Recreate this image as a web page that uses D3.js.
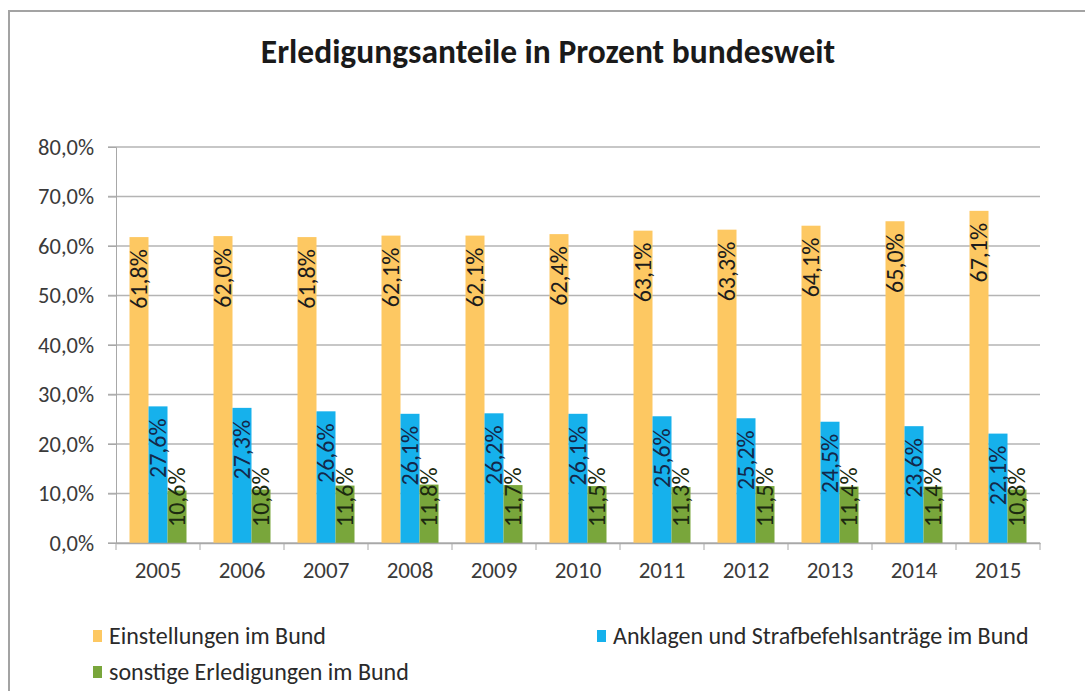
<!DOCTYPE html>
<html lang="de">
<head>
<meta charset="utf-8">
<title>Erledigungsanteile</title>
<script src="https://d3js.org/d3.v7.min.js"></script>
<style>
  body { margin: 0; background: #fff; }
  svg { display: block; font-family: Calibri, Carlito, Lato, sans-serif; }
</style>
</head>
<body>
<svg id="chart" width="1085" height="691"></svg>
<script>
// data
var years = ["2005","2006","2007","2008","2009","2010","2011","2012","2013","2014","2015"];
var einstellungen = [61.8, 62.0, 61.8, 62.1, 62.1, 62.4, 63.1, 63.3, 64.1, 65.0, 67.1];
var anklagen = [27.6, 27.3, 26.6, 26.1, 26.2, 26.1, 25.6, 25.2, 24.5, 23.6, 22.1];
var sonstige = [10.6, 10.8, 11.6, 11.8, 11.7, 11.5, 11.3, 11.5, 11.4, 11.4, 10.8];
var seriesNames = ["Einstellungen im Bund", "Anklagen und Strafbefehlsanträge im Bund", "sonstige Erledigungen im Bund"];
var yTicks = [0, 10, 20, 30, 40, 50, 60, 70, 80];

var colors = ["#fdc862", "#16b1ec", "#79a63b"];
var labelColors = ["#1c1c1c", "#14284a", "#1c2a10"];

var series = [einstellungen, anklagen, sonstige];

var svg = d3.select("#chart");

// outer frame
svg.append("rect")
  .attr("x", 9).attr("y", 11)
  .attr("width", 1100).attr("height", 700)
  .attr("fill", "#fff")
  .attr("stroke", "#a3a3a3")
  .attr("stroke-width", 2);

svg.append("text")
  .attr("x", 548).attr("y", 63)
  .attr("text-anchor", "middle")
  .attr("font-size", 33.5)
  .attr("font-weight", "bold")
  .attr("fill", "#1a1a1a")
  .text("Erledigungsanteile in Prozent bundesweit");

var pLeft = 116, pRight = 1040, pTop = 147, pBottom = 543;

var x = d3.scaleBand().domain(years).range([pLeft, pRight]);
var xInner = d3.scaleBand().domain(d3.range(3)).range([0, 57]);
var y = d3.scaleLinear().domain([0, 80]).range([pBottom, pTop]);

// gridlines
svg.append("g")
  .selectAll("line")
  .data(yTicks)
  .join("line")
  .attr("x1", pLeft - 8).attr("x2", pRight)
  .attr("y1", function(d) { return y(d); })
  .attr("y2", function(d) { return y(d); })
  .attr("stroke", "#b4b4b4")
  .attr("stroke-width", 1.3);

// y axis
var yAxis = svg.append("g")
  .attr("transform", "translate(" + pLeft + ",0)")
  .call(d3.axisLeft(y).tickValues(yTicks).tickSize(8).tickPadding(14)
    .tickFormat(function(d) { return d.toFixed(1).replace(".", ",") + "%"; }));
yAxis.select(".domain").attr("stroke", "#a8a8a8");
yAxis.selectAll(".tick line").attr("stroke", "#a8a8a8");
yAxis.selectAll("text")
  .attr("font-size", 22.5)
  .attr("fill", "#3a3a3a")
  .attr("font-family", "Calibri, Carlito, Lato, sans-serif");

// bars
var groups = svg.append("g")
  .selectAll("g")
  .data(years)
  .join("g")
  .attr("transform", function(d) { return "translate(" + (x(d) + (x.bandwidth() - 57) / 2) + ",0)"; });

groups.each(function(yr, i) {
  var g = d3.select(this);
  series.forEach(function(s, k) {
    g.append("rect")
      .attr("x", xInner(k))
      .attr("y", y(s[i]))
      .attr("width", xInner.bandwidth())
      .attr("height", pBottom - y(s[i]))
      .attr("fill", colors[k]);
  });
});

// x axis
var xAxis = svg.append("g")
  .attr("transform", "translate(0," + pBottom + ")")
  .call(d3.axisBottom(x).tickSize(0).tickPadding(19));
xAxis.select(".domain").attr("stroke", "#a8a8a8").attr("stroke-width", 1.3);
xAxis.selectAll("text")
  .attr("font-size", 23)
  .attr("fill", "#3a3a3a")
  .attr("font-family", "Calibri, Carlito, Lato, sans-serif");
// tick marks between categories
svg.append("g")
  .selectAll("line")
  .data(years.concat(["end"]))
  .join("line")
  .attr("x1", function(d, i) { return pLeft + i * x.step(); })
  .attr("x2", function(d, i) { return pLeft + i * x.step(); })
  .attr("y1", pBottom).attr("y2", pBottom + 7)
  .attr("stroke", "#a8a8a8");

// data labels, rotated
groups.each(function(yr, i) {
  var g = d3.select(this);
  series.forEach(function(s, k) {
    var cx = xInner(k) + xInner.bandwidth() / 2;
    var t = g.append("text")
      .attr("font-size", 24)
      .attr("fill", labelColors[k])
      .attr("dy", "0.35em")
      .text(s[i].toFixed(1).replace(".", ",") + "%");
    var len = t.node().getComputedTextLength();
    var endY = y(s[i]) + 12;
    if (endY + len > pBottom - 16) {
      t.attr("text-anchor", "start")
        .attr("transform", "translate(" + cx + "," + (pBottom - 16) + ") rotate(-90)");
    } else {
      t.attr("text-anchor", "end")
        .attr("transform", "translate(" + cx + "," + endY + ") rotate(-90)");
    }
  });
});

// legend
var legendPos = [[93, 636], [597, 636], [93, 672]];
var legend = svg.append("g")
  .selectAll("g")
  .data(seriesNames)
  .join("g")
  .attr("transform", function(d, i) { return "translate(" + legendPos[i][0] + "," + legendPos[i][1] + ")"; });
legend.append("rect")
  .attr("x", 0).attr("y", -6)
  .attr("width", 9).attr("height", 12)
  .attr("fill", function(d, i) { return colors[i]; });
legend.append("text")
  .attr("x", 16)
  .attr("dy", "0.35em")
  .attr("font-size", 24)
  .attr("fill", "#2a2a2a")
  .text(function(d) { return d; });
</script>
</body>
</html>
